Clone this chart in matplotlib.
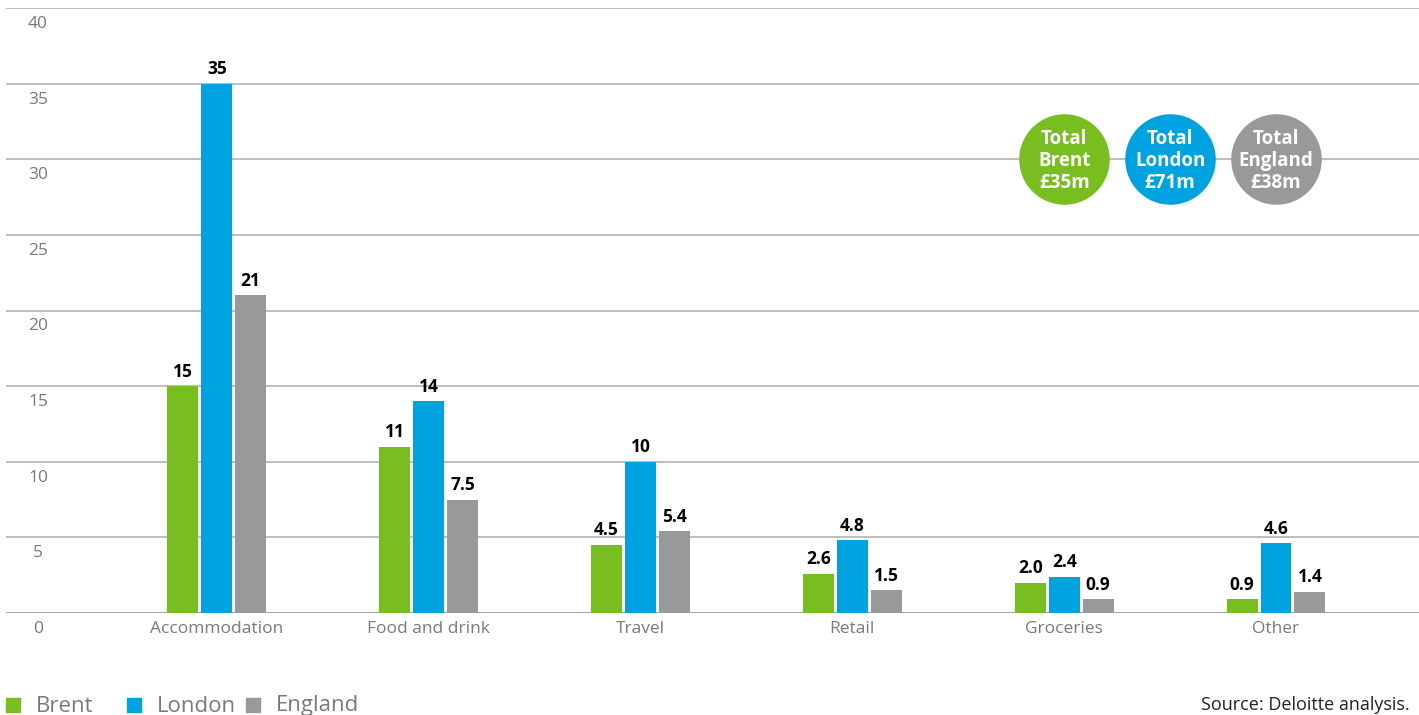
import matplotlib.pyplot as plt
import numpy as np
from matplotlib import rcParams
from matplotlib.patches import Rectangle

rcParams["font.family"] = ["Open Sans", "DejaVu Sans"]

GREEN = "#78BE20"
BLUE = "#00A3E0"
GRAY = "#97999B"
GRID = "#b3b3b3"
TEXT_GRAY = "#7a7a7a"

categories = ["Accommodation", "Food and drink", "Travel", "Retail", "Groceries", "Other"]
series_names = ["Brent", "London", "England"]
brent = [15, 11, 4.5, 2.6, 2.0, 0.9]
london = [35, 14, 10, 4.8, 2.4, 4.6]
england = [21, 7.5, 5.4, 1.5, 0.9, 1.4]
totals = ["£35m", "£71m", "£38m"]
yticks = [0, 5, 10, 15, 20, 25, 30, 35, 40]
colors = [GREEN, BLUE, GRAY]


def fmt(v):
    return f"{v:.0f}" if v >= 10 else f"{v:.1f}"


fig = plt.figure(figsize=(14.19, 7.15), dpi=100)
ax = fig.add_axes([6 / 1419, 1 - 613 / 715, 1 - 6 / 1419, (613 - 8) / 715])

x = np.arange(len(categories))
width = 0.146
step = 0.16

for i, (vals, col) in enumerate(zip([brent, london, england], colors)):
    xs = x + (i - 1) * step
    ax.bar(xs, vals, width=width, color=col, zorder=3)
    for xi, v in zip(xs, vals):
        ax.annotate(fmt(v), (xi, v), xytext=(0, 4), textcoords="offset points",
                    ha="center", va="bottom", fontsize=12.5, fontweight="bold",
                    color="black", zorder=4)

ax.set_xlim(-0.995, 5.675)
ax.set_ylim(0, 40)

for yv in yticks:
    ax.axhline(yv, color=GRID if yv else "#8f8f8f", linewidth=1.2, zorder=1)
    ax.annotate(str(yv), (0, yv), xycoords=("axes fraction", "data"),
                xytext=(32, -8), textcoords="offset pixels",
                ha="center", va="top", fontsize=12.5, color=TEXT_GRAY)

for xi, cat in zip(x, categories):
    ax.annotate(cat, (xi, 0), xycoords="data", xytext=(0, -8),
                textcoords="offset pixels", ha="center", va="top",
                fontsize=12.5, color=TEXT_GRAY)

for side in ax.spines.values():
    side.set_visible(False)
ax.set_xticks([])
ax.set_yticks([])

# Total bubbles
bubble_x = [x[4], (x[4] + x[5]) / 2, x[5]]
for bx, col, name, tot in zip(bubble_x, colors, series_names, totals):
    ax.scatter([bx], [30], s=4250, color=col, zorder=5, linewidths=0)
    ax.text(bx, 29.9, f"Total\n{name}\n{tot}", ha="center", va="center",
            fontsize=13.5, fontweight="bold", color="white", linespacing=1.12,
            zorder=6)

# Legend along the bottom
leg_x = [6, 127, 246]
for lx, col, name in zip(leg_x, colors, series_names):
    fig.patches.append(Rectangle((lx / 1419, 1 - 712 / 715), 14 / 1419, 14 / 715,
                                 transform=fig.transFigure, color=col))
    fig.text((lx + 30) / 1419, 1 - 706 / 715, name, ha="left", va="center",
             fontsize=16, color=TEXT_GRAY)

fig.text(1410 / 1419, 1 - 705 / 715, "Source: Deloitte analysis.", ha="right",
         va="center", fontsize=13, color="#222222")

fig.savefig("out.png", dpi=100)
